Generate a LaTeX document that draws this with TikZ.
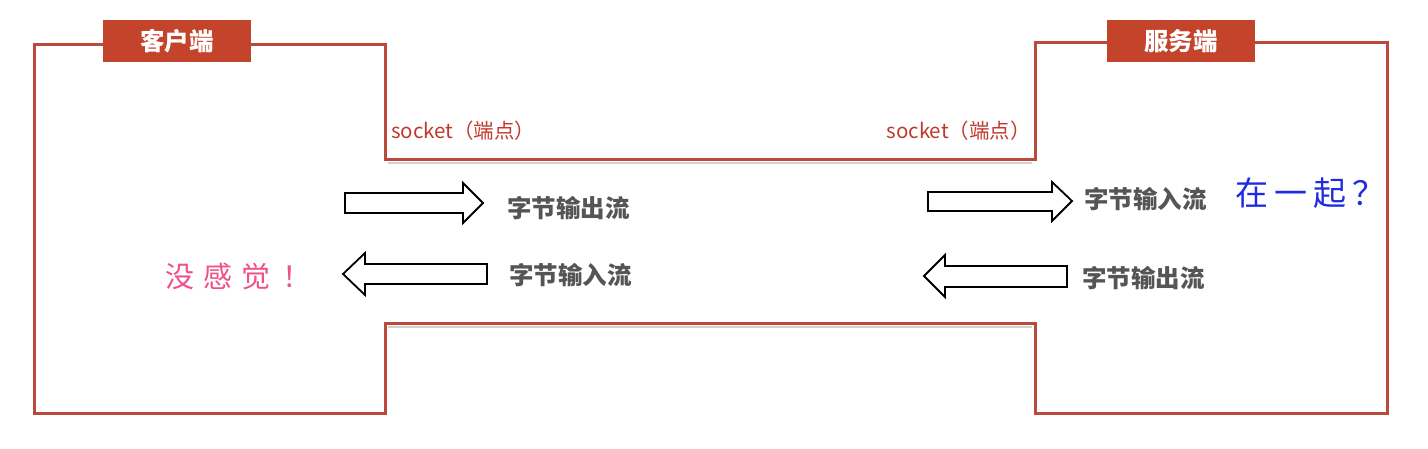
\documentclass[tikz,border=0pt]{standalone}
\usepackage{fontspec}
\newfontfamily\cjk{Noto Sans CJK SC}
\definecolor{frame}{HTML}{BC4A3C}
\definecolor{tagfill}{HTML}{C4432B}
\definecolor{labgray}{HTML}{555555}
\definecolor{pinkc}{HTML}{F0508A}
\definecolor{bluec}{HTML}{1E2BE0}
\definecolor{sockred}{HTML}{C0392B}
\tikzset{
  frameline/.style={draw=frame, line width=3pt, line join=miter},
  tag/.style={fill=tagfill, text=white, font=\cjk\bfseries\fontsize{24.5}{26}\selectfont, minimum width=148pt, minimum height=42pt, inner sep=0pt},
  lab/.style={text=labgray, font=\cjk\bfseries\fontsize{24.5}{26}\selectfont, inner sep=0pt, anchor=west},
  sock/.style={text=sockred, font=\cjk\fontsize{20.5}{22}\selectfont, inner sep=0pt},
  blockarrow/.style={draw=black, fill=white, line width=1.8pt, line join=miter},
  shadowline/.style={draw=black!18, line width=2pt}
}
\begin{document}
\begin{tikzpicture}[x=1pt,y=-1pt]
\useasboundingbox (0,0) rectangle (1428,449);
% shadows of pipe lines
\draw[shadowline] (388,163.5) -- (1032,163.5);
\draw[shadowline] (388,326.5) -- (1032,326.5);
% outline
\draw[frameline] (34,45) -- (385,45) -- (385,160) -- (1035,160) -- (1035,43) -- (1387,43) -- (1387,413) -- (1035,413) -- (1035,323) -- (385,323) -- (385,413) -- (34,413) -- cycle;
% tags
\node[tag] (client) at (177,41) {客户端};
\node[tag] (server) at (1181,41) {服务端};
% socket labels
\node[sock, anchor=west] (sockL) at (391,131) {socket（端点）};
\node[sock, anchor=east] (sockR) at (1031,131) {socket（端点）};
% block arrows
\draw[blockarrow] (345,193) -- (463,193) -- (463,183) -- (483,203) -- (463,223) -- (463,213) -- (345,213) -- cycle;
\draw[blockarrow] (487,264) -- (365,264) -- (365,253) -- (343,274) -- (365,295) -- (365,284) -- (487,284) -- cycle;
\draw[blockarrow] (928,192) -- (1052,192) -- (1052,182) -- (1072,201) -- (1052,221) -- (1052,211) -- (928,211) -- cycle;
\draw[blockarrow] (1067,266) -- (945,266) -- (945,255) -- (924,276) -- (945,297) -- (945,287) -- (1067,287) -- cycle;
% labels
\node[lab] (outL) at (507,208) {字节输出流};
\node[lab] (inL) at (509,275) {字节输入流};
\node[lab] (inR) at (1084,199) {字节输入流};
\node[lab] (outR) at (1082,278) {字节输出流};
% remarks
\node[text=pinkc, font=\cjk\fontsize{29}{30}\selectfont, inner sep=0pt, anchor=west] (none) at (165,277) {没\hspace{9pt}感\hspace{9pt}觉\hspace{12pt}！};
\node[text=bluec, font=\cjk\fontsize{33}{34}\selectfont, inner sep=0pt, anchor=west] (together) at (1235,193) {在\hspace{6pt}一\hspace{6pt}起\hspace{6pt}？};
\end{tikzpicture}
\end{document}
